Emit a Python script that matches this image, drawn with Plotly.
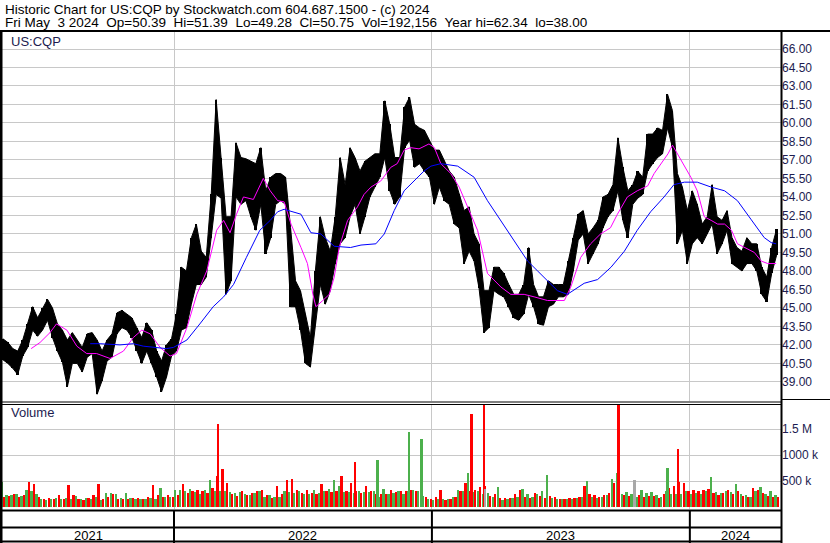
import plotly.graph_objects as go

# ---------------- DATA (weekly) ----------------
# week index 0 = first week of May 2021, last = week ending Fri May 3 2024
week_high = [42.5, 42.2, 41.7, 41.5, 42.4, 43.7, 45.1, 44.2, 45.0, 45.7,
             45.0, 43.7, 43.2, 42.4, 43.0, 42.4, 41.8, 42.9, 43.0, 42.4,
             41.5, 42.4, 42.9, 44.6, 44.8, 44.5, 44.2, 43.4, 42.6, 43.8,
             43.2, 41.5, 40.7, 42.0, 42.5, 44.5, 48.3, 48.0, 50.7, 51.8,
             49.6, 49.1, 54.2, 61.9, 57.2, 52.4, 52.4, 58.4, 57.2, 57.1,
             56.9, 56.7, 58.0, 54.5, 55.6, 55.9, 55.9, 55.6, 51.5, 47.2,
             46.4, 44.5, 42.6, 48.0, 52.4, 50.7, 49.6, 52.4, 57.2, 55.0,
             58.0, 57.2, 56.1, 56.9, 57.2, 57.5, 57.5, 61.8, 59.9, 57.2,
             57.2, 61.3, 62.1, 59.9, 59.6, 59.4, 58.6, 57.8, 57.8, 56.9,
             56.1, 55.6, 54.2, 52.9, 53.2, 51.0, 50.2, 46.4, 46.4, 48.3,
             48.3, 47.8, 46.9, 46.1, 46.1, 46.9, 49.9, 46.9, 45.9, 45.9,
             47.2, 46.9, 46.9, 46.9, 48.8, 50.7, 52.6, 52.9, 51.0, 51.5,
             52.1, 54.0, 54.2, 55.0, 58.8, 56.4, 54.5, 55.0, 56.1, 55.6,
             59.1, 59.1, 59.6, 59.4, 62.34, 61.0, 55.9, 54.8, 52.9, 54.5,
             53.4, 51.8, 52.4, 55.0, 52.4, 52.1, 52.9, 50.7, 49.9, 49.6,
             50.7, 50.2, 50.2, 48.3, 47.5, 49.9, 51.39]
week_low = [40.8, 40.5, 40.1, 39.6, 41.1, 41.8, 43.2, 42.7, 43.2, 44.0,
            42.6, 41.5, 40.6, 38.6, 40.5, 40.5, 39.8, 41.0, 41.3, 38.0,
            39.1, 40.7, 41.0, 42.9, 43.4, 43.2, 42.6, 41.5, 40.5, 41.5,
            40.5, 39.4, 38.2, 39.4, 41.1, 41.5, 43.2, 43.4, 45.3, 46.9,
            46.9, 47.5, 50.7, 54.2, 53.9, 46.1, 47.2, 54.0, 53.4, 53.7,
            52.4, 51.3, 53.4, 49.4, 50.7, 53.4, 53.7, 53.4, 45.1, 45.1,
            43.2, 40.5, 40.2, 43.7, 46.9, 45.3, 46.4, 48.6, 50.2, 50.7,
            52.4, 53.4, 51.0, 52.4, 54.0, 54.8, 55.6, 57.2, 54.5, 53.4,
            54.0, 58.0, 58.6, 56.4, 56.7, 56.1, 55.6, 53.4, 54.8, 53.7,
            53.4, 51.8, 51.5, 48.6, 49.6, 48.8, 46.6, 43.0, 43.4, 46.4,
            46.1, 45.9, 45.1, 44.2, 44.0, 44.5, 46.1, 45.1, 43.7, 43.6,
            45.1, 45.3, 45.9, 45.9, 46.1, 48.0, 50.5, 51.0, 48.6, 49.4,
            50.2, 51.5, 52.4, 52.9, 54.5, 52.1, 50.7, 53.4, 53.9, 54.2,
            56.1, 56.7, 57.2, 57.5, 59.6, 58.0, 50.2, 51.3, 48.6, 50.2,
            50.7, 50.2, 51.0, 51.8, 49.4, 50.2, 51.3, 48.6, 48.3, 48.0,
            48.6, 48.6, 48.0, 46.1, 45.5, 47.8, 49.28]

# short moving average (magenta): week position, value
ma_short_week = [6.2, 8, 10, 11.3, 13.4, 15.4, 17.4, 19.4, 22.1, 24.8, 26.8, 28.5,
                 30.2, 32.2, 34.2, 35.5, 37.6, 39.6, 41.6, 43.6, 45.0, 46.3, 47.6,
                 49.0, 51.0, 53.0, 54.4, 55.9, 57.2, 58.6, 60.6, 61.9, 63.0, 63.6,
                 65.0, 66.3, 67.3, 68.3, 70.0, 72.0, 73.3, 74.7, 76.7, 78.7, 80.0,
                 81.4, 82.7, 84.4, 86.4, 87.5, 88.8, 90.8, 92.5, 94.2, 96.2, 98.2,
                 100.9, 102.9, 105.6, 107.6, 110.3, 113.7, 115, 117, 119, 121, 123,
                 124.4, 126.4, 128.4, 130.5, 131.8, 133.2, 134.6, 135.5, 136.5,
                 137.9, 139.2, 140.5, 141.9, 143.3, 144.6, 146.0, 147.4, 148.6,
                 150.0, 152.0, 153.4, 154.7, 156.4]
ma_short_val = [41.7, 42.2, 43.0, 43.7, 43.2, 41.9, 41.3, 41.3, 40.9, 41.5, 42.6, 43.2,
                42.9, 41.8, 41.1, 41.3, 43.4, 46.1, 48.0, 51.3, 52.1, 51.1, 52.6,
                54.0, 53.8, 55.5, 54.5, 53.7, 53.6, 51.8, 49.9, 48.6, 46.1, 45.1,
                45.6, 46.1, 47.5, 49.9, 52.1, 53.2, 54.2, 54.8, 55.3, 56.4, 56.7,
                57.8, 58.0, 57.9, 58.3, 58.0, 56.7, 55.9, 54.8, 53.2, 51.3, 47.8,
                46.7, 46.1, 46.1, 45.9, 45.6, 45.6, 46.7, 49.1, 50.2, 51.0, 51.5,
                52.6, 54.0, 54.5, 54.9, 55.9, 56.7, 57.5, 58.2, 57.5,
                56.4, 55.6, 54.5, 52.4, 52.1, 51.8, 51.8, 51.3, 50.2,
                49.9, 49.5, 48.8, 48.6, 48.6]

# long moving average (blue): week position, value
ma_long_week = [18.1, 20.1, 24.1, 26.8, 28.8, 31.5, 33.5, 34.9, 37.6, 40.2, 42.9, 45.0,
                47.0, 49.6, 52.3, 54.4, 55.9, 57.2, 59.2, 60.6, 62.6, 64.6, 67.3,
                70.6, 72.7, 75.7, 77.4, 79.4, 81.4, 83.4, 85.4, 86.8, 88.8, 92.2,
                95.5, 98.2, 100.9, 103.6, 106.3, 108.3, 109.6, 111.0, 112.3, 114.3,
                116.4, 117.7, 120.4, 123.1, 125.8, 128.4, 131.1, 133.8, 135.8,
                137.9, 140.5, 143.3, 146.0, 148.6, 151.3, 154.0, 155.4, 156.4]
ma_long_val = [42.1, 42.1, 42.0, 42.1, 41.9, 41.8, 41.7, 41.8, 42.4, 43.7, 45.1, 45.9,
               46.9, 49.1, 51.3, 52.1, 52.8, 53.0, 52.8, 52.6, 51.1, 51.0, 50.0,
               49.9, 50.1, 50.2, 51.0, 52.9, 54.5, 55.3, 56.1, 56.5, 56.7, 56.5,
               55.6, 53.7, 52.1, 50.5, 48.8, 48.0, 47.5, 46.9, 46.4, 46.1,
               46.7, 47.0, 47.3, 48.3, 49.6, 51.3, 52.8, 54.0, 55.0,
               55.2, 55.2, 54.8, 54.5, 53.7, 52.2, 50.7, 50.3, 50.2]

# typical daily volume (thousands) on up days / down days for each week
vol_up = [480, 240, 230, 250, 220, 320, 300, 250, 150, 140,
          150, 170, 160, 180, 150, 220, 150, 180, 150, 200,
          140, 260, 270, 250, 170, 260, 180, 150, 160, 150,
          170, 150, 360, 200, 190, 330, 330, 300, 350, 280,
          250, 320, 520, 300, 300, 300, 280, 260, 290, 250,
          240, 260, 300, 200, 230, 200, 190, 300, 280, 260,
          300, 250, 250, 330, 260, 300, 350, 520, 400, 280,
          280, 260, 300, 280, 290, 300, 200, 350, 250, 260,
          300, 250, 300, 330, 300, 220, 160, 140, 150, 160,
          150, 200, 330, 300, 650, 280, 300, 250, 260, 200,
          380, 130, 150, 180, 200, 350, 250, 200, 250, 300,
          620, 180, 150, 160, 150, 160, 180, 200, 500, 200,
          180, 200, 230, 540, 650, 250, 280, 250, 200, 330,
          260, 280, 230, 200, 300, 250, 250, 250, 300, 250,
          260, 250, 300, 580, 280, 260, 300, 280, 450, 250,
          240, 200, 300, 380, 250, 300, 230]
vol_down = [200, 220, 250, 200, 230, 480, 440, 200, 160, 180,
            160, 240, 150, 420, 240, 160, 130, 170, 230, 440,
            160, 190, 250, 160, 160, 150, 170, 170, 150, 200,
            420, 240, 200, 230, 200, 230, 450, 260, 310, 320,
            300, 270, 360, 600, 450, 470, 250, 220, 300, 230,
            260, 300, 320, 240, 180, 400, 250, 510, 530, 320,
            260, 330, 270, 250, 450, 310, 280, 300, 600, 300,
            460, 300, 260, 400, 300, 250, 250, 250, 330, 290,
            300, 300, 320, 300, 270, 200, 150, 200, 320, 140,
            150, 190, 300, 460, 300, 330, 380, 400, 220, 250,
            180, 170, 180, 250, 320, 200, 180, 270, 220, 180,
            220, 200, 160, 150, 170, 170, 200, 400, 250, 230,
            200, 240, 260, 460, 300, 230, 220, 230, 230, 200,
            210, 220, 180, 250, 360, 400, 480, 460, 300, 320,
            300, 320, 350, 260, 240, 260, 320, 250, 300, 220,
            200, 370, 330, 260, 220, 200, 192]

# single-day volume spikes (week position, thousands, direction)
spike_week = [43.9, 44.8, 71.5, 76.1, 82.4, 84.9, 95.0, 97.6, 97.8, 124.7, 127.9, 134.5, 136.7]
spike_vol = [1600, 730, 870, 900, 1440, 1300, 1790, 2300, 350, 2400, 520, 750, 1120]
spike_dir = ['down', 'down', 'down', 'up', 'up', 'up', 'down', 'down', 'flat',
             'down', 'flat', 'up', 'down']

price_ticks = [39.0, 40.5, 42.0, 43.5, 45.0, 46.5, 48.0, 49.5, 51.0, 52.5, 54.0,
               55.5, 57.0, 58.5, 60.0, 61.5, 63.0, 64.5, 66.0]
vol_ticks = [500, 1000, 1500]
vol_tick_text = ['500 k', '1000 k', '1.5 M']
year_labels = ['2021', '2022', '2023', '2024']
year_start_week = [35, 87, 139]   # week index at which 2022, 2023, 2024 begin

title1 = "Historic Chart for US:CQP by Stockwatch.com 604.687.1500 - (c) 2024"
title2 = ("Fri May\u00a0\u00a03 2024\u00a0\u00a0Op=50.39\u00a0\u00a0Hi=51.39\u00a0\u00a0"
          "Lo=49.28\u00a0\u00a0Cl=50.75\u00a0\u00a0Vol=192,156\u00a0\u00a0Year hi=62.34\u00a0\u00a0lo=38.00")

# ---------------- STYLE / LAYOUT ----------------
W, H = 830, 543
FONT = "Liberation Sans, Arial, sans-serif"
LABEL_COLOR = "#1c1c50"
GRID = "#c8c8c8"
GREEN = "#4cb04c"
RED = "#ff0000"
GRAY = "#a8a8a8"

def px(x):
    return x / W

def py(y):
    return 1 - y / H

X_RANGE = [0.32, 157.38]
n = len(week_high)
wc = [i + 0.5 for i in range(n)]

fig = go.Figure()

# price range band (weekly high / low envelope), drawn as thin bars plus a filled band
fig.add_trace(go.Scatter(x=wc, y=week_high, mode="lines", line=dict(color="black", width=1),
                         xaxis="x", yaxis="y", showlegend=False, hoverinfo="skip"))
fig.add_trace(go.Scatter(x=wc, y=week_low, mode="lines", line=dict(color="black", width=1),
                         fill="tonexty", fillcolor="black",
                         xaxis="x", yaxis="y", showlegend=False, hoverinfo="skip"))
fig.add_trace(go.Bar(x=wc, y=[h - l for h, l in zip(week_high, week_low)], base=week_low,
                     width=0.35, marker=dict(color="black", line=dict(width=0)),
                     xaxis="x", yaxis="y", showlegend=False, hoverinfo="skip"))
fig.add_trace(go.Scatter(x=ma_short_week, y=ma_short_val, mode="lines",
                         line=dict(color="#ff00ff", width=1), xaxis="x", yaxis="y",
                         showlegend=False, hoverinfo="skip"))
fig.add_trace(go.Scatter(x=ma_long_week, y=ma_long_val, mode="lines",
                         line=dict(color="#0000ff", width=1), xaxis="x", yaxis="y",
                         showlegend=False, hoverinfo="skip"))

# volume bars
fig.add_trace(go.Bar(x=[i + 0.25 for i in range(n)], y=vol_up, width=0.46,
                     marker=dict(color=GREEN, line=dict(width=0)),
                     xaxis="x2", yaxis="y2", showlegend=False, hoverinfo="skip"))
fig.add_trace(go.Bar(x=[i + 0.75 for i in range(n)], y=vol_down, width=0.46,
                     marker=dict(color=RED, line=dict(width=0)),
                     xaxis="x2", yaxis="y2", showlegend=False, hoverinfo="skip"))
cmap = {'up': GREEN, 'down': RED, 'flat': GRAY}
fig.add_trace(go.Bar(x=spike_week, y=spike_vol, width=0.4,
                     marker=dict(color=[cmap[d] for d in spike_dir], line=dict(width=0)),
                     xaxis="x2", yaxis="y2", showlegend=False, hoverinfo="skip"))

# price axis: py 32 -> 401 ; 66.00 at py 49, 12.33 px per dollar
ppd = 12.33
y_top = 66 + (49 - 32) / ppd
y_bot = 66 - (401 - 49) / ppd
# volume axis: py 405 -> 509 ; 0 at py 507, 26 px per 500k
vz = 507
vpk = 26 / 500
v_top = (vz - 405) / vpk
v_bot = (vz - 509) / vpk

fig.update_layout(
    width=W, height=H, margin=dict(l=0, r=0, t=0, b=0),
    paper_bgcolor="white", plot_bgcolor="white",
    barmode="overlay", bargap=0,
    font=dict(family=FONT, size=12, color=LABEL_COLOR),
    xaxis=dict(domain=[px(2), px(781)], range=X_RANGE, tickvals=year_start_week,
               showticklabels=False, showgrid=True, gridcolor=GRID, gridwidth=1,
               zeroline=False, showline=False, ticks="", anchor="y", fixedrange=True),
    yaxis=dict(domain=[py(401), py(32)], range=[y_bot, y_top], side="right",
               tickvals=price_ticks, ticktext=[f"{v:.2f}" for v in price_ticks],
               showgrid=True, gridcolor=GRID, gridwidth=1, zeroline=False,
               showline=False, ticks="", anchor="x",
               tickfont=dict(family=FONT, size=12, color=LABEL_COLOR)),
    xaxis2=dict(domain=[px(2), px(781)], range=X_RANGE, tickvals=year_start_week,
                showticklabels=False, showgrid=True, gridcolor=GRID, gridwidth=1,
                zeroline=False, showline=False, ticks="", anchor="y2"),
    yaxis2=dict(domain=[py(509), py(405)], range=[v_bot, v_top], side="right",
                tickvals=vol_ticks, ticktext=vol_tick_text,
                showgrid=True, gridcolor=GRID, gridwidth=1, zeroline=False,
                showline=False, ticks="", anchor="x2",
                tickfont=dict(family=FONT, size=12, color=LABEL_COLOR)),
)

shapes = []
def hline(yp, x0p, x1p, w=1):
    shapes.append(dict(type="line", xref="paper", yref="paper", x0=px(x0p), x1=px(x1p),
                       y0=py(yp), y1=py(yp), line=dict(color="black", width=w)))
def vline(xp, y0p, y1p, w=1):
    shapes.append(dict(type="line", xref="paper", yref="paper", x0=px(xp), x1=px(xp),
                       y0=py(y0p), y1=py(y1p), line=dict(color="black", width=w)))

hline(31, 0, 830, 2)          # top border
vline(1, 30, 543, 3)          # left border
vline(781.5, 30, 543, 2)      # axis border
hline(402, 0, 781, 1)         # panel separator (double)
hline(404.5, 0, 781, 1)
hline(399.5, 781, 830, 1)
hline(510.5, 0, 781, 2)       # bottom of volume panel
hline(527.5, 0, 781, 2)       # year row
hline(541.5, 0, 781, 2)       # bottom border
for yw in year_start_week:
    shapes.append(dict(type="line", xref="x", yref="paper", x0=yw, x1=yw,
                       y0=py(543), y1=py(510), line=dict(color="black", width=2)))
fig.update_layout(shapes=shapes)

ann = []
ann.append(dict(text=title1, x=px(3), y=py(9.5), xref="paper", yref="paper",
                xanchor="left", yanchor="middle", showarrow=False,
                font=dict(family=FONT, size=13.5, color="black")))
ann.append(dict(text=title2, x=px(3), y=py(22.5), xref="paper", yref="paper",
                xanchor="left", yanchor="middle", showarrow=False,
                font=dict(family=FONT, size=13.5, color="black")))
ann.append(dict(text="US:CQP", x=px(9), y=py(41), xref="paper", yref="paper",
                xanchor="left", yanchor="middle", showarrow=False,
                font=dict(family=FONT, size=13, color=LABEL_COLOR)))
ann.append(dict(text="Volume", x=px(9), y=py(413), xref="paper", yref="paper",
                xanchor="left", yanchor="middle", showarrow=False,
                font=dict(family=FONT, size=13, color=LABEL_COLOR)))
bounds = [X_RANGE[0]] + year_start_week + [X_RANGE[1]]
for i, lab in enumerate(year_labels):
    ann.append(dict(text=lab, x=(bounds[i] + bounds[i + 1]) / 2, y=py(535), xref="x",
                    yref="paper", xanchor="center", yanchor="middle", showarrow=False,
                    font=dict(family=FONT, size=13, color="black")))
fig.update_layout(annotations=ann)

fig.write_html("out.html", config={"displayModeBar": False},
               post_script="document.body.style.margin='0px';"
                           "document.body.style.padding='0px';"
                           "document.body.style.overflow='hidden';")
